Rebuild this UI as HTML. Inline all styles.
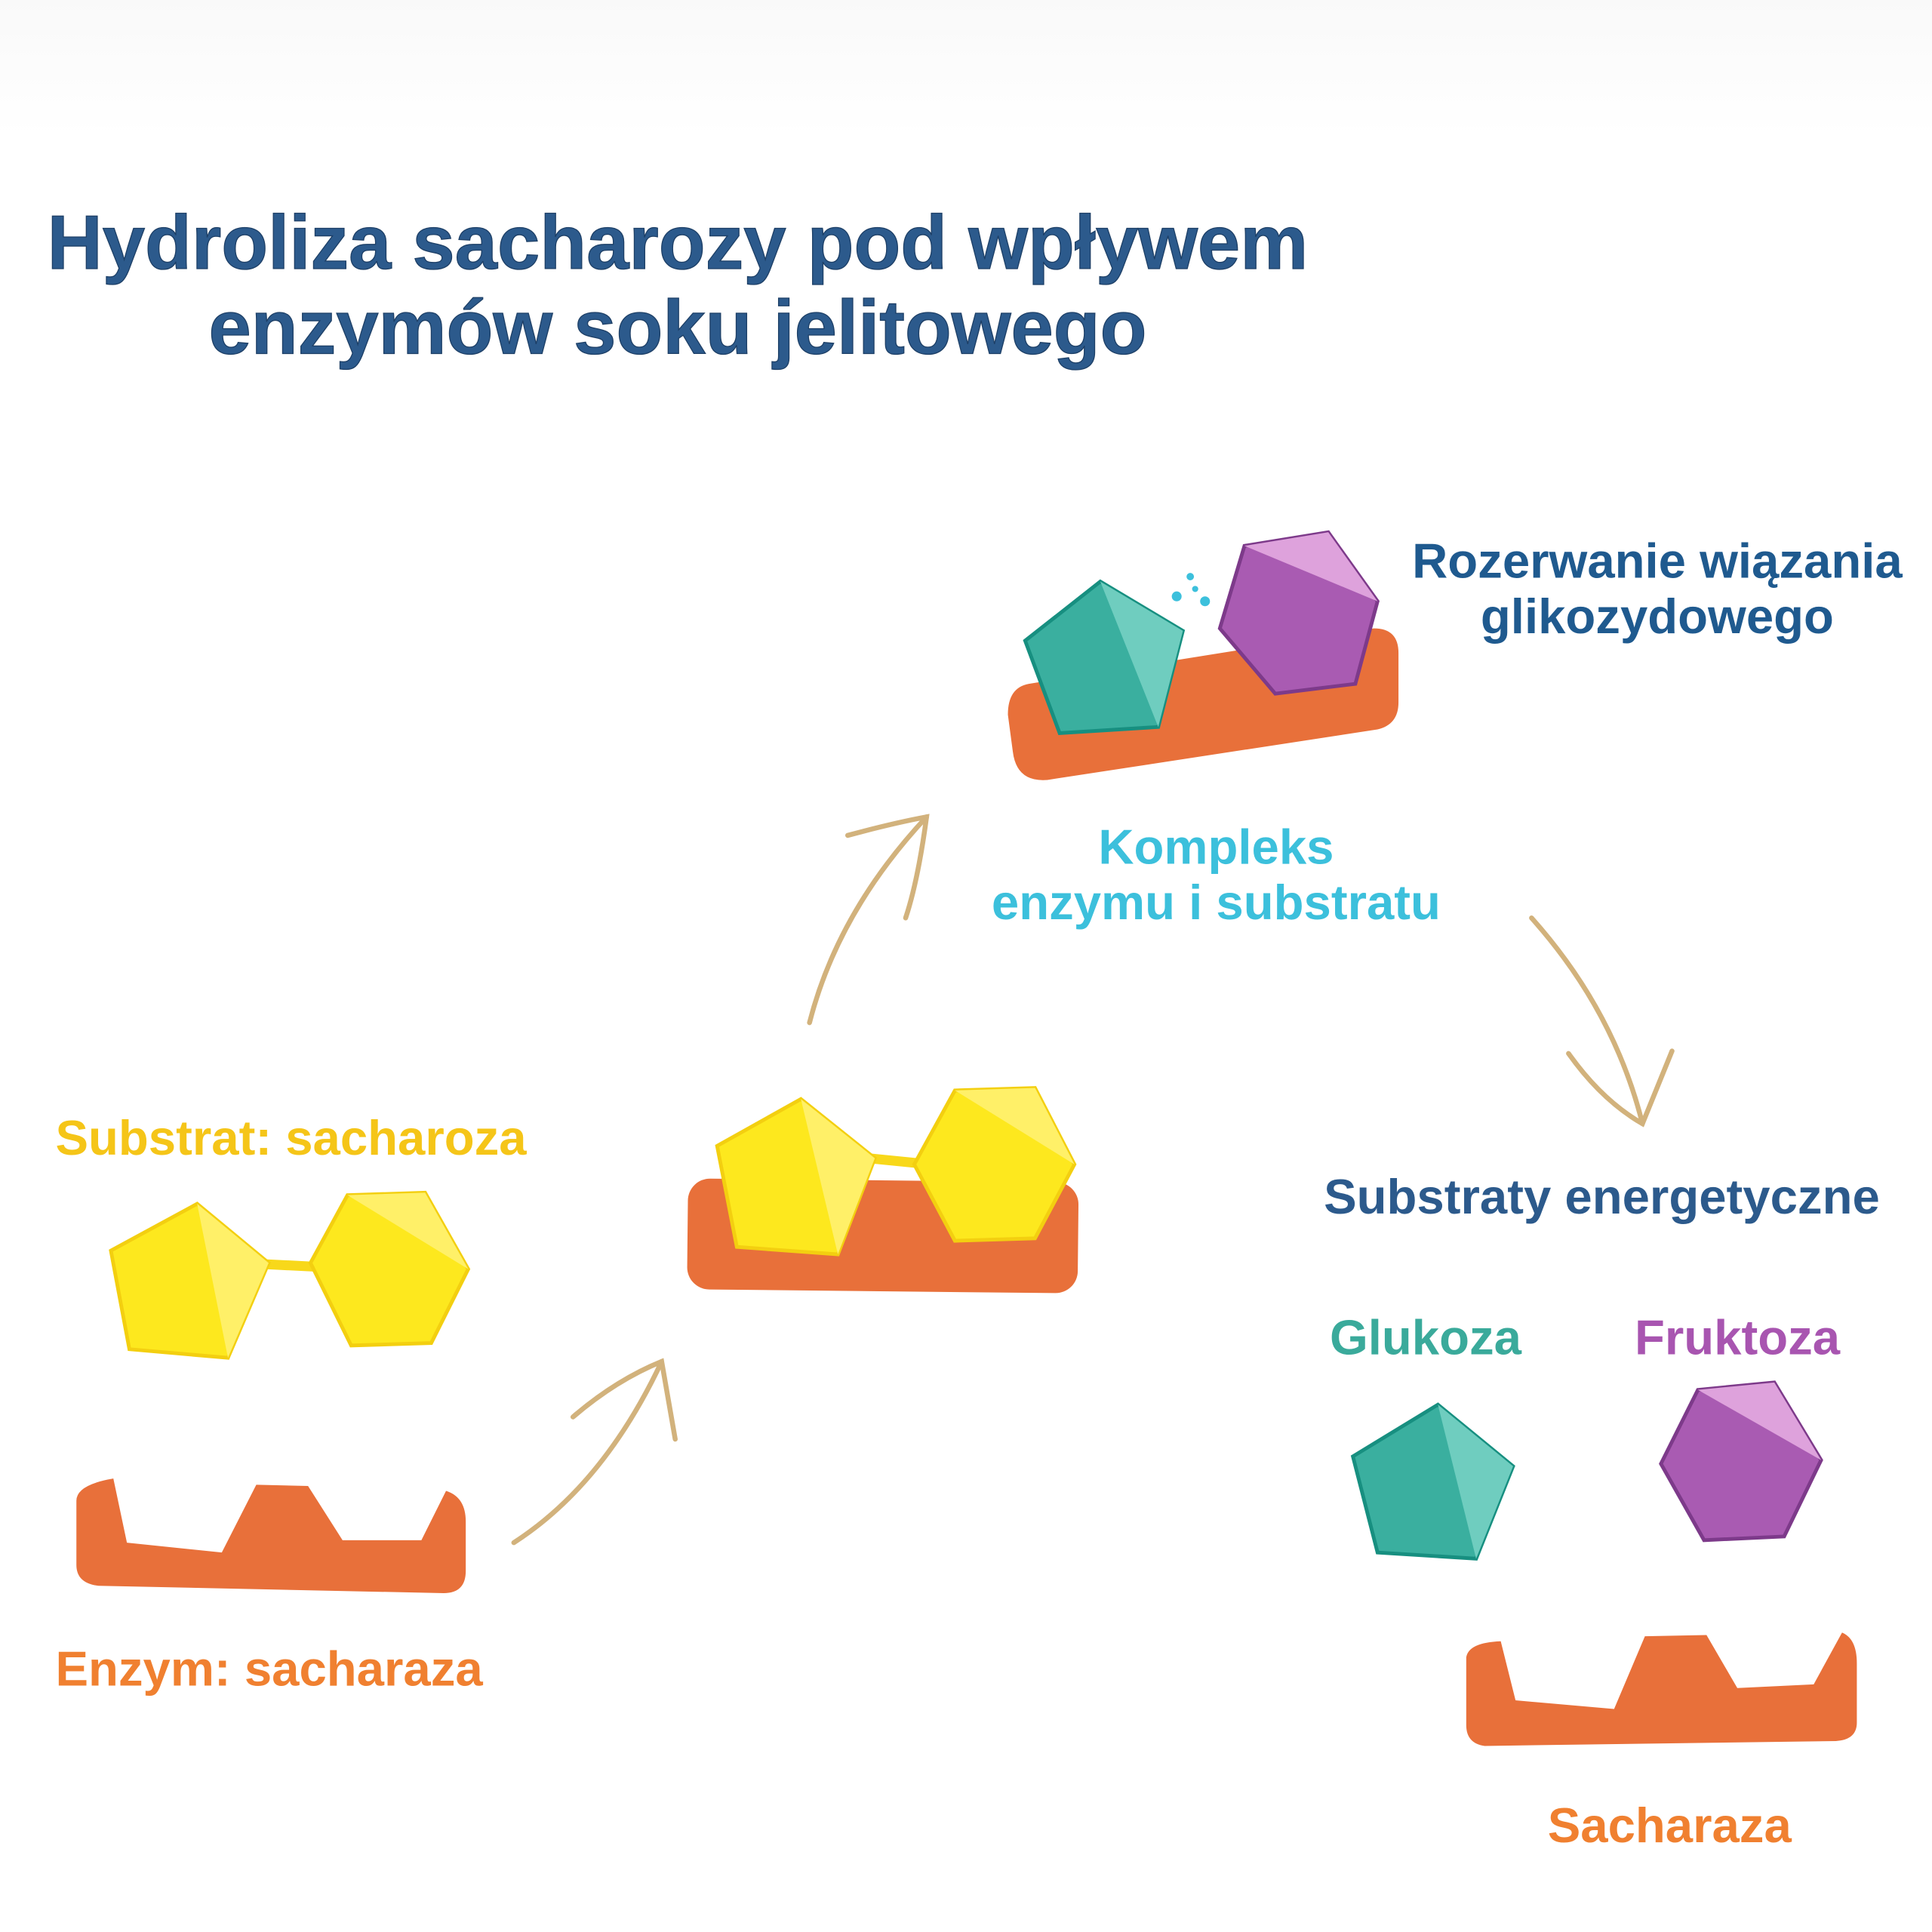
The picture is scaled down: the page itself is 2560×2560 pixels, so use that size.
<!DOCTYPE html>
<html><head><meta charset="utf-8"><style>
html,body{margin:0;padding:0;background:#fff;}
svg{display:block}
text{font-family:"Liberation Sans",Arial,sans-serif;font-weight:bold}
</style></head><body>
<svg width="2560" height="2560" viewBox="0 0 1568 1568" xmlns="http://www.w3.org/2000/svg">
<defs><linearGradient id="bg" x1="0" y1="0" x2="0" y2="1"><stop offset="0" stop-color="#f9f9f9"/><stop offset="1" stop-color="#ffffff"/></linearGradient></defs>
<rect width="1568" height="1568" fill="#fff"/>
<rect width="1568" height="110" fill="url(#bg)"/>
<g fill="#2c5a8c" font-size="62" text-anchor="middle" stroke="#1d3f66" stroke-width="0.8">
<text x="550" y="218">Hydroliza sacharozy pod wpływem</text>
<text x="550" y="287">enzymów soku jelitowego</text>
</g>
<text x="45" y="937" font-size="40" fill="#f5c518">Substrat: sacharoza</text>
<text x="45" y="1368" font-size="40" fill="#f08030">Enzym: sacharaza</text>
<g font-size="40" text-anchor="middle">
<text x="1345" y="469" fill="#1f5a8f">Rozerwanie wiązania</text>
<text x="1345" y="514" fill="#1f5a8f">glikozydowego</text>
<text x="987" y="701" fill="#3cc0dc">Kompleks</text>
<text x="987" y="746" fill="#3cc0dc">enzymu i substratu</text>
<text x="1300" y="985" fill="#2c5a8c">Substraty energetyczne</text>
<text x="1157" y="1099" fill="#3aaa9b">Glukoza</text>
<text x="1410" y="1099" fill="#a855b0">Fruktoza</text>
<text x="1355" y="1495" fill="#f08030">Sacharaza</text>
</g>
<!-- left substrate -->
<line x1="215" y1="1026" x2="255" y2="1028" stroke="#f8d81a" stroke-width="8"/>
<polygon points="90,1015 160,977 218,1025 185,1102 105,1095" fill="#fde81e" stroke="#f3cf10" stroke-width="3"/>
<polygon points="160,977 218,1025 185,1102" fill="#fff068"/>
<polygon points="252,1025 282,970 345,968 380,1030 350,1090 285,1092" fill="#fde81e" stroke="#f3cf10" stroke-width="3"/>
<polygon points="282,970 345,968 380,1030" fill="#fff068"/>
<!-- left enzyme -->
<path d="M62,1218 Q62,1205 92,1200 L103,1252 L180,1260 L208,1205 L250,1206 L278,1250 L342,1250 L362,1210 Q378,1215 378,1235 L378,1275 Q378,1293 360,1293 L80,1287 Q62,1285 62,1270 Z" fill="#e8703a"/>
<!-- arrows -->
<g fill="none" stroke="#d2b27c" stroke-width="4" stroke-linecap="round">
<path d="M417,1252 Q490,1205 537,1105"/><path d="M465,1150 Q500,1120 537,1105 L548,1168"/>
<path d="M657,830 Q680,740 752,663"/><path d="M688,678 Q725,668 752,663 Q745,715 735,745"/>
<path d="M1243,745 Q1310,820 1333,912"/><path d="M1273,855 Q1300,893 1333,912 L1357,853"/>
</g>
<!-- middle complex -->
<rect x="558" y="958" width="317" height="90" rx="18" fill="#e8703a" transform="rotate(0.6 716 1003)"/>
<line x1="705" y1="940" x2="745" y2="944" stroke="#f8d81a" stroke-width="8"/>
<polygon points="582,930 650,892 710,940 680,1018 598,1012" fill="#fde81e" stroke="#f3cf10" stroke-width="3"/>
<polygon points="650,892 710,940 680,1018" fill="#fff068"/>
<polygon points="742,945 775,885 840,883 872,945 840,1005 775,1007" fill="#fde81e" stroke="#f3cf10" stroke-width="3"/>
<polygon points="775,885 840,883 872,945" fill="#fff068"/>
<!-- top complex -->
<path d="M835,555 L1115,510 Q1135,510 1135,530 L1135,570 Q1135,588 1118,592 L850,633 Q825,635 822,610 L818,580 Q818,558 835,555 Z" fill="#e8703a"/>
<polygon points="832,520 893,472 960,512 940,590 860,595" fill="#3aaf9f" stroke="#178f80" stroke-width="3"/>
<polygon points="893,472 960,512 940,590" fill="#6fcdbf"/>
<polygon points="990,510 1010,443 1078,432 1118,488 1100,555 1035,563" fill="#a95bb2" stroke="#7d3a8a" stroke-width="3"/>
<polygon points="1010,443 1078,432 1118,488" fill="#dea2dc"/>
<g fill="#3cc0dc"><circle cx="955" cy="484" r="4"/><circle cx="966" cy="468" r="3"/><circle cx="978" cy="488" r="4"/><circle cx="970" cy="478" r="2.5"/></g>
<!-- products -->
<polygon points="1098,1182 1167,1140 1228,1190 1198,1265 1118,1260" fill="#3aaf9f" stroke="#178f80" stroke-width="3"/>
<polygon points="1167,1140 1228,1190 1198,1265" fill="#6fcdbf"/>
<polygon points="1348,1188 1378,1128 1440,1122 1478,1185 1448,1247 1383,1250" fill="#a95bb2" stroke="#7d3a8a" stroke-width="3"/>
<polygon points="1378,1128 1440,1122 1478,1185" fill="#dea2dc"/>
<path d="M1190,1345 Q1192,1333 1218,1332 L1230,1380 L1310,1387 L1335,1328 L1385,1327 L1410,1370 L1472,1367 L1495,1325 Q1507,1330 1507,1350 L1507,1398 Q1507,1412 1490,1413 L1205,1417 Q1190,1415 1190,1400 Z" fill="#e8703a"/>
</svg>
</body></html>
